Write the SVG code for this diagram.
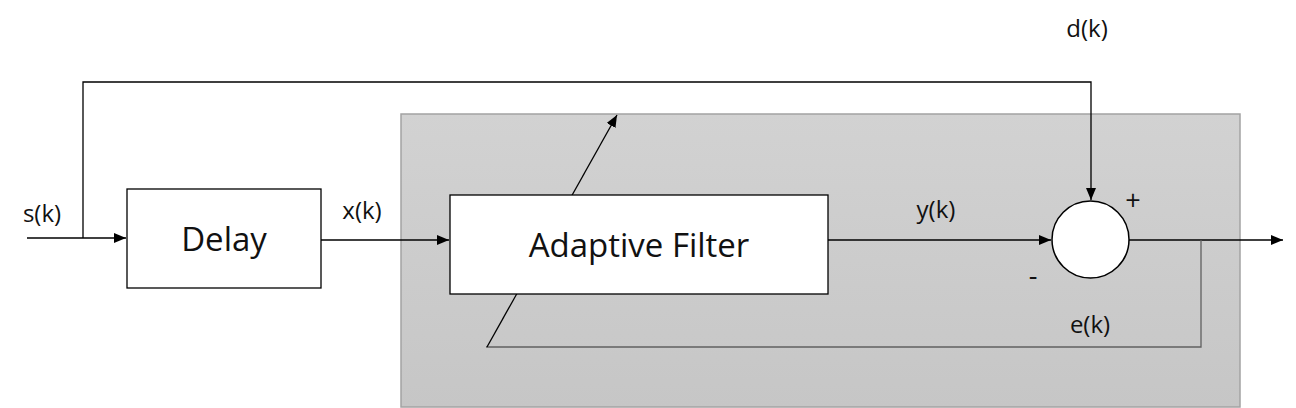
<svg xmlns="http://www.w3.org/2000/svg" width="1296" height="408" viewBox="0 0 1296 408">
<style>
text{font-family:"Open Sans","Liberation Sans",sans-serif;fill:#111}
.lbl{font-size:24px}
.sign{font-size:27px}
.big{font-size:33px}
.ln{fill:none;stroke:#000;stroke-width:1.3}
.box{fill:#fff;stroke:#000;stroke-width:1.3}
</style>
<defs>
<marker id="ah" markerWidth="12" markerHeight="10" refX="12" refY="5" orient="auto" markerUnits="userSpaceOnUse">
<path d="M0,0 L12,5 L0,10 Z" fill="#000"/>
</marker>
<linearGradient id="bg" x1="0" y1="0" x2="0" y2="1">
<stop offset="0" stop-color="#d2d2d2"/>
<stop offset="1" stop-color="#c6c6c6"/>
</linearGradient>
</defs>
<rect id="panel" x="401" y="114" width="839" height="293" fill="url(#bg)" stroke="#a3a3a3" stroke-width="1.5"/>
<g id="connectors">
<path class="ln" d="M27,238 H126" marker-end="url(#ah)"/>
<path class="ln" d="M83,238 V82 H1091 V200" marker-end="url(#ah)"/>
<path class="ln" d="M321,240 H449" marker-end="url(#ah)"/>
<path class="ln" d="M828,240 H1051" marker-end="url(#ah)"/>
<path class="ln" d="M1129,240 H1283" marker-end="url(#ah)"/>
<path fill="none" stroke="#606060" stroke-width="1.3" d="M1201,240 V347 H486"/>
<path class="ln" d="M487,347 L617,115" marker-end="url(#ah)"/>
</g>
<g id="delay">
<rect class="box" x="127" y="189" width="194" height="99"/>
<text class="big" x="224" y="251" text-anchor="middle">Delay</text>
</g>
<g id="adaptive-filter">
<rect class="box" x="450" y="195" width="378" height="99"/>
<text class="big" x="639" y="257" text-anchor="middle">Adaptive Filter</text>
</g>
<g id="sum">
<circle cx="1090.5" cy="239.5" r="38.5" fill="#fff" stroke="#000" stroke-width="1.5"/>
<text class="sign" x="1133" y="210" text-anchor="middle">+</text>
<text class="sign" x="1033" y="285" text-anchor="middle">-</text>
</g>
<g id="labels">
<text class="lbl" x="42" y="222" text-anchor="middle">s(k)</text>
<text class="lbl" x="362" y="219" text-anchor="middle">x(k)</text>
<text class="lbl" x="936" y="218" text-anchor="middle">y(k)</text>
<text class="lbl" x="1087" y="37" text-anchor="middle">d(k)</text>
<text class="lbl" x="1090" y="333" text-anchor="middle">e(k)</text>
</g>
</svg>
